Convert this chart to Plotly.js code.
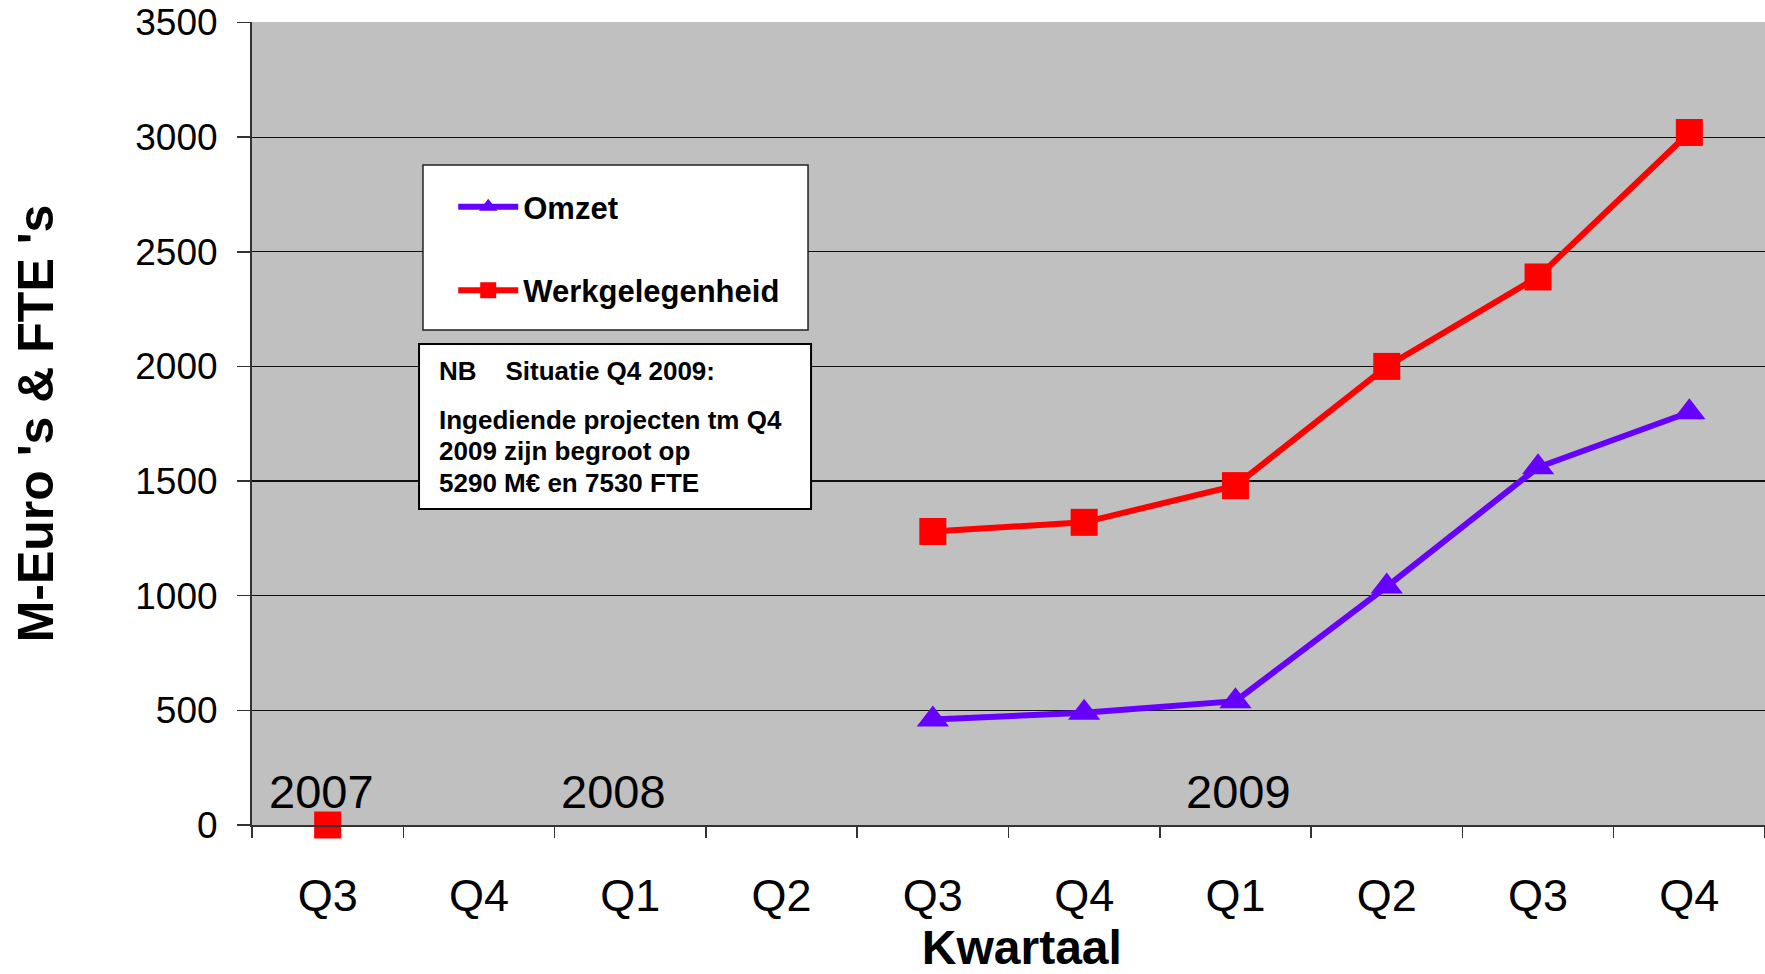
<!DOCTYPE html>
<html>
<head>
<meta charset="utf-8">
<script src="https://cdn.plot.ly/plotly-3.0.1.min.js"></script>
<style>html,body{margin:0;padding:0;background:#fff;}#chart{width:1765px;height:974px;}</style>
</head>
<body>
<div id="chart"></div>
<script>
// Quarters (unique keys) and their displayed tick labels
const categories = ["2007-Q3","2007-Q4","2008-Q1","2008-Q2","2008-Q3","2008-Q4","2009-Q1","2009-Q2","2009-Q3","2009-Q4"];
const tickLabels = ["Q3","Q4","Q1","Q2","Q3","Q4","Q1","Q2","Q3","Q4"];
// Series values (M-Euro / FTE)
const omzet = [null, null, null, null, 460, 490, 540, 1040, 1560, 1800];
const werkgelegenheid = [0, null, null, null, 1280, 1320, 1480, 2000, 2390, 3020];
const yearLabels = ["2007", "2008", "2009"];
const noteLines = ["NB\u00a0\u00a0\u00a0\u00a0Situatie Q4 2009:", "Ingediende projecten tm Q4", "2009 zijn begroot op", "5290 M\u20ac en 7530 FTE"];

const FONT = "Liberation Sans, Arial, sans-serif";

const traces = [
  {
    x: categories, y: omzet, name: "Omzet", type: "scatter", mode: "lines+markers",
    line: {color: "#6600FF", width: 6},
    marker: {symbol: "triangle-up", size: 28, color: "#6600FF"},
    cliponaxis: false, connectgaps: false, legendgroup: "a"
  },
  {
    x: categories, y: werkgelegenheid, name: "Werkgelegenheid", type: "scatter", mode: "lines+markers",
    line: {color: "#FF0000", width: 6},
    marker: {symbol: "square", size: 27, color: "#FF0000"},
    cliponaxis: false, connectgaps: false, legendgroup: "b"
  }
];

const yearPos = [-0.04, 1.89, 6.02];
const notePos = [0.5654, 0.5044, 0.4658, 0.4259];
const annotations = [];
yearLabels.forEach((t, i) => annotations.push({
  x: yearPos[i], y: 145, xref: "x", yref: "y", text: t, showarrow: false,
  xanchor: "center", yanchor: "middle", font: {family: FONT, size: 47, color: "#000"}
}));
noteLines.forEach((t, i) => annotations.push({
  x: 0.1226, y: notePos[i], xref: "paper", yref: "paper", text: "<b>" + t + "</b>", showarrow: false,
  xanchor: "left", yanchor: "middle", font: {family: FONT, size: 26, color: "#000"}
}));

const layout = {
  width: 1765, height: 974,
  margin: {l: 252, r: 0, t: 22, b: 149, pad: 0},
  paper_bgcolor: "#ffffff",
  plot_bgcolor: "#C0C0C0",
  font: {family: FONT, color: "#000"},
  showlegend: true,
  legend: {
    x: 0.133, y: 0.803, xanchor: "left", yanchor: "top",
    bgcolor: "rgba(0,0,0,0)", borderwidth: 0,
    font: {family: FONT, size: 31, color: "#000", weight: "bold"},
    itemwidth: 60, traceorder: "grouped", tracegroupgap: 40
  },
  xaxis: {
    type: "category", range: [-0.5, 9.5],
    tickmode: "array", tickvals: categories, ticktext: tickLabels,
    tickson: "boundaries", ticks: "outside", ticklen: 11, tickwidth: 1.5, tickcolor: "#333",
    showline: true, linecolor: "#333", linewidth: 2, showgrid: false, zeroline: false,
    tickfont: {family: FONT, size: 45, color: "#000"}, ticklabelstandoff: 30,
    title: {text: "<b>\u00a0\u00a0Kwartaal</b>", font: {family: FONT, size: 48, color: "#000"}, standoff: 17}
  },
  yaxis: {
    range: [0, 3502], tickmode: "linear", tick0: 0, dtick: 500,
    ticks: "outside", ticklen: 13, tickwidth: 1.5, tickcolor: "#333",
    showline: true, linecolor: "#333", linewidth: 2,
    showgrid: true, gridcolor: "#111", gridwidth: 1.2, zeroline: false,
    tickfont: {family: FONT, size: 37, color: "#000"}, ticklabelstandoff: 12,
    title: {text: "<b>M-Euro 's & FTE 's</b>", font: {family: FONT, size: 50, color: "#000"}, standoff: 66}
  },
  shapes: [
    {type: "rect", xref: "paper", yref: "paper", x0: 0.1130, x1: 0.3675, y0: 0.6164, y1: 0.8219,
     fillcolor: "#ffffff", line: {color: "#222", width: 1.5}, layer: "above"},
    {type: "rect", xref: "paper", yref: "paper", x0: 0.1104, x1: 0.3695, y0: 0.3935, y1: 0.599,
     fillcolor: "#ffffff", line: {color: "#000", width: 2}, layer: "above"}
  ],
  annotations: annotations
};

Plotly.newPlot("chart", traces, layout, {displayModeBar: false, staticPlot: true});
</script>
</body>
</html>
